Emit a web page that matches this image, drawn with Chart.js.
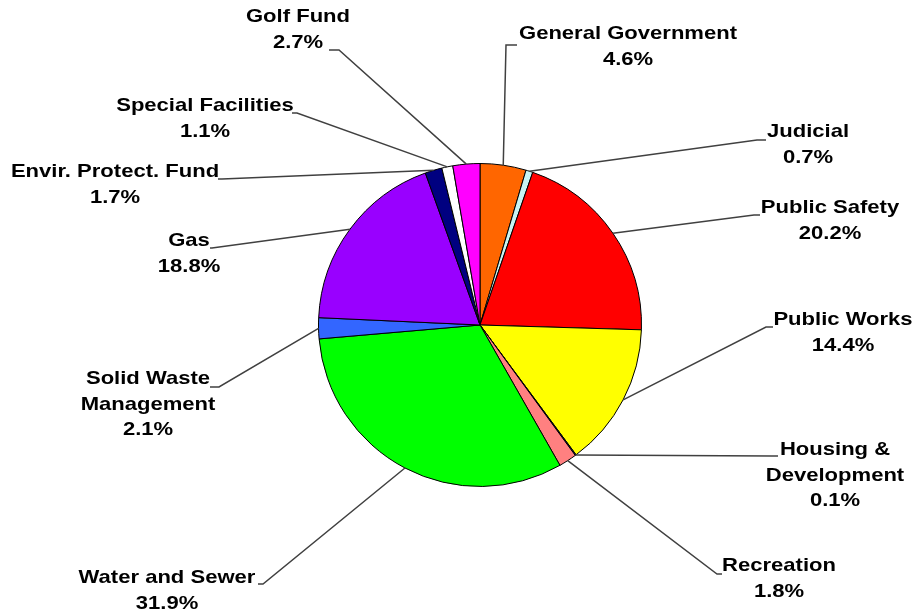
<!DOCTYPE html>
<html>
<head>
<meta charset="utf-8">
<script src="https://cdn.jsdelivr.net/npm/chart.js@4"></script>
<style>
html,body{margin:0;padding:0;background:#fff;}
canvas{display:block;}
</style>
</head>
<body>
<canvas id="c" width="914" height="614"></canvas>
<script>
// ---- data ----
const categories = ['General Government','Judicial','Public Safety','Public Works','Housing & Development','Recreation','Water and Sewer','Solid Waste Management','Gas','Envir. Protect. Fund','Special Facilities','Golf Fund'];
const values = [4.6, 0.7, 20.2, 14.4, 0.1, 1.8, 31.9, 2.1, 18.8, 1.7, 1.1, 2.7];
const colors = ['#FF6600','#C8F4F4','#FF0000','#FFFF00','#333399','#FF8080','#00FF00','#3366FF','#9900FF','#000080','#FFFFFF','#FF00FF'];

// ---- label layout (wrapping, text block position, leader elbow) ----
const labelLines = [['General Government'],['Judicial'],['Public Safety'],['Public Works'],['Housing &','Development'],['Recreation'],['Water and Sewer'],['Solid Waste','Management'],['Gas'],['Envir. Protect. Fund'],['Special Facilities'],['Golf Fund']];
const labelPos = [[628,34],[808,132],[830,208],[843,320],[835,450],[779,566],[167,578],[148,379],[189,241],[115,172],[205,106],[298,17]];
const elbows = [[506,45,517],[757,140,766],[754,215,760],[766,327,773],[772,456,778],[717,574,722],[263,584,258],[219,387,210],[212,248,210],[222,179,218],[297,113,292],[339,50,329]];

const LINE_H = 25.5, FONT_PX = 19, SX = 1.16;

const labelPlugin = {
  id: 'leaderLabels',
  afterDatasetsDraw(chart) {
    const ctx = chart.ctx;
    const meta = chart.getDatasetMeta(0);
    ctx.save();
    meta.data.forEach((arc, i) => {
      const p = arc.getProps(['x','y','startAngle','endAngle','outerRadius'], true);
      const mid = (p.startAngle + p.endAngle) / 2;
      const ax = p.x + Math.cos(mid) * p.outerRadius;
      const ay = p.y + Math.sin(mid) * p.outerRadius;
      const e = elbows[i];
      ctx.beginPath();
      ctx.strokeStyle = '#404040';
      ctx.lineWidth = 1.5;
      ctx.moveTo(ax, ay);
      ctx.lineTo(e[0], e[1]);
      ctx.lineTo(e[2], e[1]);
      ctx.stroke();
      const lines = labelLines[i].concat([values[i].toFixed(1) + '%']);
      const [cx, cy] = labelPos[i];
      ctx.fillStyle = '#000';
      ctx.font = 'bold ' + FONT_PX + 'px "Liberation Sans", Arial, sans-serif';
      ctx.textAlign = 'center';
      ctx.textBaseline = 'middle';
      lines.forEach((t, k) => {
        ctx.save();
        ctx.translate(cx, cy + k * LINE_H);
        ctx.scale(SX, 1);
        ctx.fillText(t, 0, 0);
        ctx.restore();
      });
    });
    ctx.restore();
  }
};

new Chart(document.getElementById('c'), {
  type: 'pie',
  data: {
    labels: categories,
    datasets: [{
      data: values,
      backgroundColor: colors,
      borderColor: '#000',
      borderWidth: 1
    }]
  },
  options: {
    responsive: false,
    animation: false,
    layout: { padding: { top: 163, bottom: 127, left: 318, right: 272 } },
    plugins: { legend: { display: false }, tooltip: { enabled: false } }
  },
  plugins: [labelPlugin]
});
</script>
</body>
</html>
